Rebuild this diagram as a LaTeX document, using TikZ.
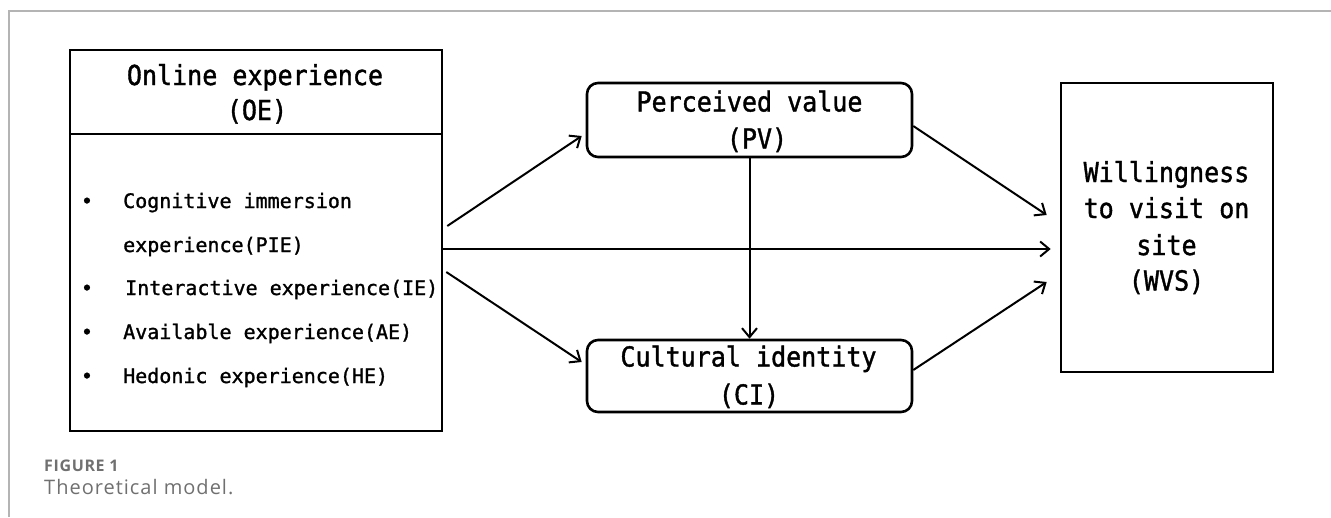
\documentclass[tikz,border=0pt]{standalone}
\usepackage{fontspec}
\usetikzlibrary{arrows.meta,calc}
\newfontfamily\diagfont[FakeBold=1.3]{DejaVu Sans Mono}
\newfontfamily\diagfontbig[FakeBold=1.3,FakeStretch=0.91]{DejaVu Sans Mono}
\newfontfamily\capfont[LetterSpace=5]{Open Sans}
\newfontfamily\capfontb[LetterSpace=4]{Open Sans}
\definecolor{framegray}{HTML}{B4B4B4}
\definecolor{capgray}{HTML}{707070}
\tikzset{
  boxsq/.style={draw=black,line width=2.6pt,inner sep=0pt},
  boxrd/.style={draw=black,line width=2.6pt,inner sep=0pt,rounded corners=11pt},
  bigtxt/.style={anchor=base,inner sep=0pt,font=\diagfontbig\fontsize{27.5}{32}\selectfont},
  smalltxt/.style={anchor=base west,inner sep=0pt,font=\diagfont\fontsize{20}{24}\selectfont},
  bullettxt/.style={anchor=base,inner sep=0pt,font=\diagfont\fontsize{20}{24}\selectfont},
  arr/.style={line width=2pt,-{Straight Barb[length=9pt,width=15pt,line width=2pt]}},
  captxt/.style={anchor=base west,inner sep=0pt,text=capgray},
}
\begin{document}
\begin{tikzpicture}[x=1pt,y=-1pt]
\useasboundingbox (0,0) rectangle (1331,517);
% page frame
\draw[framegray,line width=1.5pt] (9,517) -- (9,11) -- (1331,11);
% boxes
\node[boxsq,minimum width=372pt,minimum height=84pt] (oeh) at (256,92) {};
\node[boxsq,minimum width=372pt,minimum height=297pt] (oeb) at (256,282.5) {};
\node[boxrd,minimum width=325pt,minimum height=74pt] (pv) at (749.5,120) {};
\node[boxrd,minimum width=325pt,minimum height=72pt] (ci) at (749.5,376) {};
\node[boxsq,minimum width=212pt,minimum height=289pt] (wvs) at (1167,227.5) {};
% header texts
\node[bigtxt] (oe1) at (255,85) {Online experience};
\node[bigtxt] (oe2) at (257,120) {(OE)};
\node[bigtxt] (pv1) at (749.5,111.5) {Perceived value};
\node[bigtxt] (pv2) at (757,148.5) {(PV)};
\node[bigtxt] (ci1) at (748.5,366.5) {Cultural identity};
\node[bigtxt] (ci2) at (749,404.5) {(CI)};
\node[bigtxt] (w1) at (1166.5,182) {Willingness};
\node[bigtxt] (w2) at (1166.5,218) {to visit on};
\node[bigtxt] (w3) at (1166.5,255) {site};
\node[bigtxt] (w4) at (1166.5,290.5) {(WVS)};
% bullet list
\node[bullettxt] (b1) at (87,208) {•};
\node[smalltxt] (l1) at (123,208) {Cognitive immersion};
\node[smalltxt] (l1b) at (123,252) {experience(PIE)};
\node[bullettxt] (b2) at (87,295) {•};
\node[smalltxt] (l2) at (125,295) {Interactive experience(IE)};
\node[bullettxt] (b3) at (87,339) {•};
\node[smalltxt] (l3) at (123,339) {Available experience(AE)};
\node[bullettxt] (b4) at (87,383) {•};
\node[smalltxt] (l4) at (123,383) {Hedonic experience(HE)};
% connector end points
\coordinate (s1) at ($(oeb.east)+(4,-56.5)$);
\coordinate (s2) at ($(oeb.east)+(0,-33.5)$);
\coordinate (s3) at ($(oeb.east)+(3,-10.5)$);
\coordinate (t1) at ($(pv.west)+(-4,16)$);
\coordinate (t2) at ($(wvs.west)+(-9,21.5)$);
\coordinate (t3) at ($(ci.west)+(-4,-14)$);
\coordinate (p1) at ($(pv.east)+(0,6)$);
\coordinate (p2) at ($(wvs.west)+(-13,-12.5)$);
\coordinate (c1) at ($(ci.east)+(0,-6)$);
\coordinate (c2) at ($(wvs.west)+(-13,54.5)$);
% connectors
\draw[arr] (s1) -- (t1);
\draw[arr] (s2) -- (t2);
\draw[arr] (s3) -- (t3);
\draw[arr] (pv.south) -- (ci.north);
\draw[arr] (p1) -- (p2);
\draw[arr] (c1) -- (c2);
% caption
\node[captxt,font=\capfontb\bfseries\fontsize{16}{19}\selectfont] (fig) at (44,471.5) {FIGURE 1};
\node[captxt,font=\capfont\fontsize{20}{24}\selectfont] (cap) at (44,494) {Theoretical model.};
\end{tikzpicture}
\end{document}
